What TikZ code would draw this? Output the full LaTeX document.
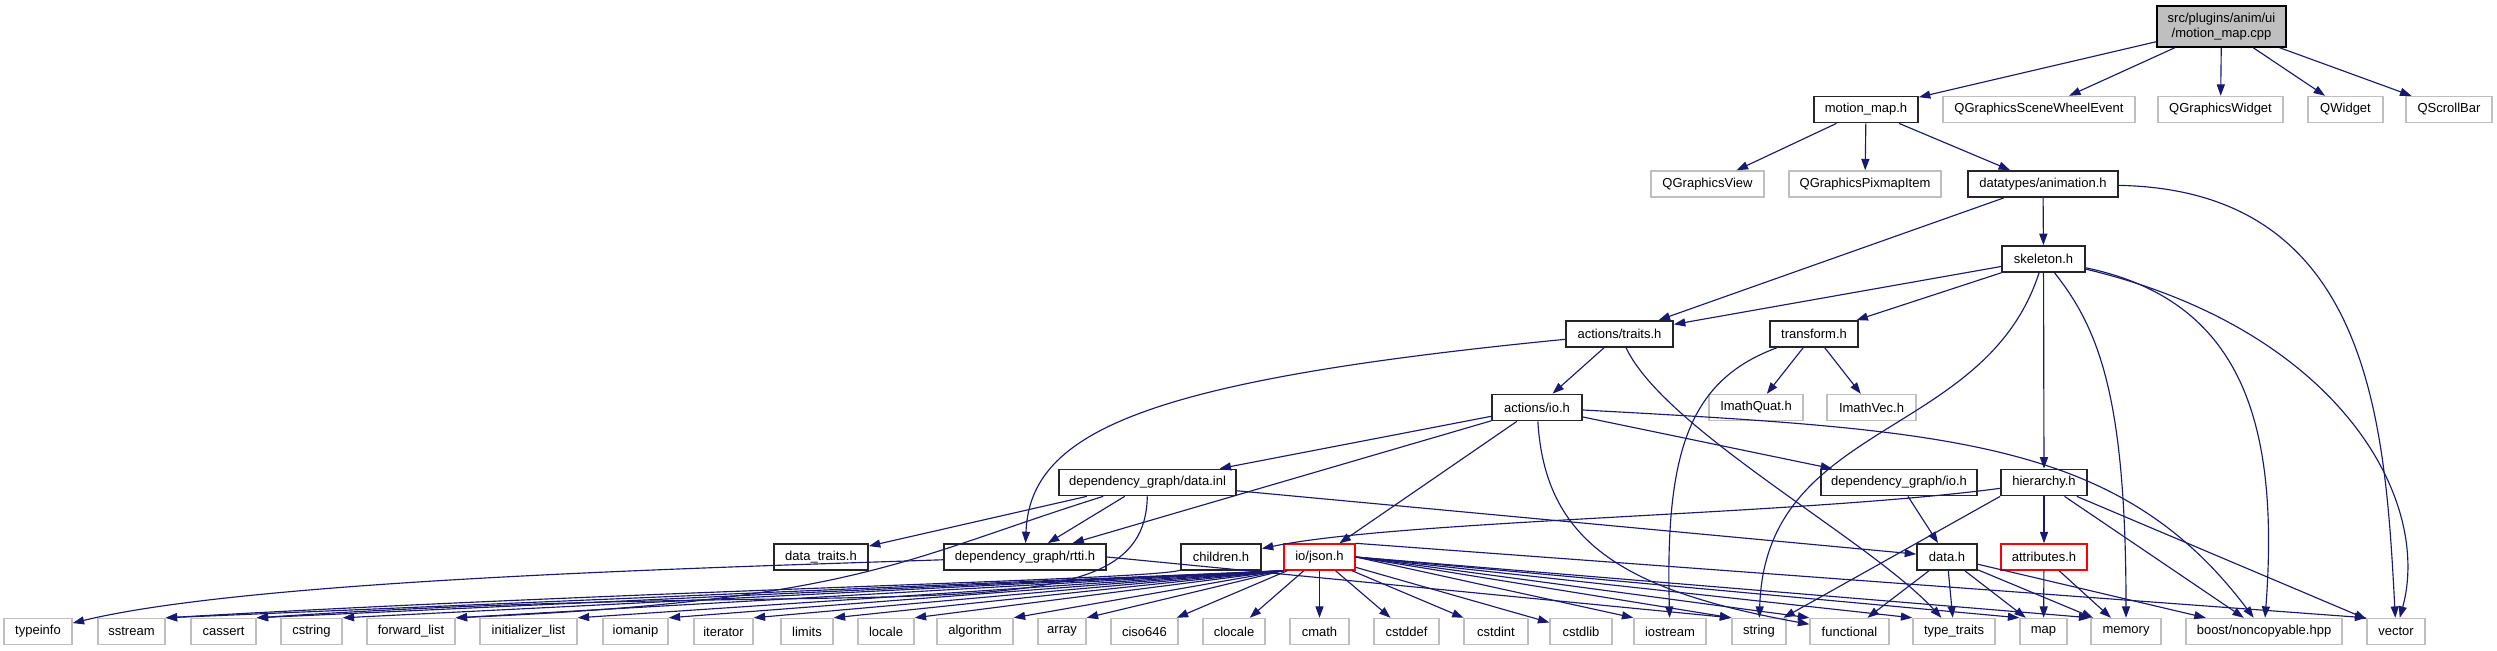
\documentclass[tikz,border=0pt]{standalone}
\usepackage{fontspec}
\setmainfont{Liberation Sans}
\usepackage{tikz}
\usetikzlibrary{arrows.meta}
\definecolor{edgeblue}{HTML}{191970}
\definecolor{sysgray}{HTML}{BFBFBF}
\newcommand{\doxfont}{\fontsize{7.4}{8.4}\selectfont}

\begin{document}
\begin{tikzpicture}[
  x=0.02cm, y=-0.02cm,
  rootf/.style={draw=black, line width=0.8pt, fill=sysgray, minimum height=0.82cm, inner sep=1pt, align=center, font=\doxfont},
  hdr/.style={draw=black!85, line width=1pt, minimum height=0.52cm, inner sep=1pt, font=\doxfont},
  syshdr/.style={draw=sysgray, line width=0.8pt, minimum height=0.52cm, inner sep=1pt, font=\doxfont},
  errhdr/.style={draw=red, line width=0.8pt, minimum height=0.52cm, inner sep=1pt, font=\doxfont},
  incl/.style={draw=edgeblue, line width=0.65pt, -{Triangle[length=6.5pt,width=4.6pt]}}
]
\useasboundingbox (0,0) rectangle (2497,651);

% upper levels
\node[rootf, minimum width=2.58cm] (cpp) at (2221.5,26.5) {src/plugins/anim/ui\\/motion\_map.cpp};
\node[hdr, minimum width=2.08cm] (mmh) at (1866,109.5) {motion\_map.h};
\node[syshdr, minimum width=3.84cm] (qgswe) at (2039,109.5) {QGraphicsSceneWheelEvent};
\node[syshdr, minimum width=2.50cm] (qgw) at (2220.5,109.5) {QGraphicsWidget};
\node[syshdr, minimum width=1.50cm] (qwid) at (2345.5,109.5) {QWidget};
\node[syshdr, minimum width=1.72cm] (qsb) at (2449,109.5) {QScrollBar};
\node[syshdr, minimum width=2.26cm] (qgv) at (1707.5,184) {QGraphicsView};
\node[syshdr, minimum width=3.04cm] (qgpi) at (1865,184) {QGraphicsPixmapItem};
\node[hdr, minimum width=3.00cm] (anim) at (2043,184) {datatypes/animation.h};
\node[hdr, minimum width=1.66cm] (skel) at (2043.5,259) {skeleton.h};
\node[hdr, minimum width=2.14cm] (traits) at (1619.5,334) {actions/traits.h};
\node[hdr, minimum width=1.76cm] (transform) at (1814,334) {transform.h};
\node[hdr, minimum width=1.80cm] (io) at (1537,407.5) {actions/io.h};
\node[syshdr, minimum width=1.88cm] (iquat) at (1756,407.5) {ImathQuat.h};
\node[syshdr, minimum width=1.78cm] (ivec) at (1871.5,407.5) {ImathVec.h};
\node[hdr, minimum width=3.54cm] (datainl) at (1147.5,482.5) {dependency\_graph/data.inl};
\node[hdr, minimum width=3.12cm] (dgio) at (1899,482.5) {dependency\_graph/io.h};
\node[hdr, minimum width=1.72cm] (hier) at (2044,482.5) {hierarchy.h};
\node[hdr, minimum width=1.88cm] (dtraits) at (821,557) {data\_traits.h};
\node[hdr, minimum width=3.24cm] (rtti) at (1025,557) {dependency\_graph/rtti.h};
\node[hdr, minimum width=1.60cm] (children) at (1221,557) {children.h};
\node[errhdr, minimum width=1.42cm] (json) at (1319.5,557) {io/json.h};
\node[hdr, minimum width=1.20cm] (datah) at (1947,557) {data.h};
\node[errhdr, minimum width=1.72cm] (attr) at (2044,557) {attributes.h};

% system headers
\node[syshdr, minimum width=1.36cm] (typeinfo) at (38,631.5) {typeinfo};
\node[syshdr, minimum width=1.34cm] (sstream) at (131.5,631.5) {sstream};
\node[syshdr, minimum width=1.30cm] (cassert) at (223.5,631.5) {cassert};
\node[syshdr, minimum width=1.22cm] (cstring) at (311.5,631.5) {cstring};
\node[syshdr, minimum width=1.76cm] (fwdlist) at (411,631.5) {forward\_list};
\node[syshdr, minimum width=1.94cm] (initlist) at (528.5,631.5) {initializer\_list};
\node[syshdr, minimum width=1.30cm] (iomanip) at (635.5,631.5) {iomanip};
\node[syshdr, minimum width=1.18cm] (iterator) at (723.5,631.5) {iterator};
\node[syshdr, minimum width=1.04cm] (limits) at (807,631.5) {limits};
\node[syshdr, minimum width=1.12cm] (locale) at (886,631.5) {locale};
\node[syshdr, minimum width=1.52cm] (algorithm) at (975,631.5) {algorithm};
\node[syshdr, minimum width=0.96cm] (array) at (1062,631.5) {array};
\node[syshdr, minimum width=1.34cm] (ciso) at (1144.5,631.5) {ciso646};
\node[syshdr, minimum width=1.24cm] (clocale) at (1234,631.5) {clocale};
\node[syshdr, minimum width=1.18cm] (cmath) at (1319.5,631.5) {cmath};
\node[syshdr, minimum width=1.30cm] (cstddef) at (1406.5,631.5) {cstddef};
\node[syshdr, minimum width=1.28cm] (cstdint) at (1496,631.5) {cstdint};
\node[syshdr, minimum width=1.24cm] (cstdlib) at (1581,631.5) {cstdlib};
\node[syshdr, minimum width=1.44cm] (iostream) at (1670,631.5) {iostream};
\node[syshdr, minimum width=1.08cm] (string) at (1759,631.5) {string};
\node[syshdr, minimum width=1.58cm] (functional) at (1849.5,631.5) {functional};
\node[syshdr, minimum width=1.64cm] (typetraits) at (1954,631.5) {type\_traits};
\node[syshdr, minimum width=0.94cm] (map) at (2043.5,631.5) {map};
\node[syshdr, minimum width=1.40cm] (memory) at (2126,631.5) {memory};
\node[syshdr, minimum width=3.12cm] (boost) at (2264,631.5) {boost/noncopyable.hpp};
\node[syshdr, minimum width=1.16cm] (vector) at (2396,631.5) {vector};

% includes
\draw[incl] (cpp) -- (mmh);
\draw[incl] (cpp) -- (qgswe);
\draw[incl] (cpp) -- (qgw);
\draw[incl] (cpp) -- (qwid);
\draw[incl] (cpp) -- (qsb);
\draw[incl] (mmh) -- (qgv);
\draw[incl] (mmh) -- (qgpi);
\draw[incl] (mmh) -- (anim);
\draw[incl] (anim) -- (skel);
\draw[incl] (anim) -- (traits);
\draw[incl] (anim) .. controls (2370,190) and (2385,420) .. (vector);
\draw[incl] (skel) -- (traits);
\draw[incl] (skel) -- (transform);
\draw[incl] (skel) -- (hier);
\draw[incl] (skel) .. controls (1985,440) and (1765,420) .. (string);
\draw[incl] (skel) .. controls (2100,330) and (2126,400) .. (memory);
\draw[incl] (skel) .. controls (2240,300) and (2280,420) .. (boost);
\draw[incl] (skel) .. controls (2340,330) and (2432,500) .. (vector);
\draw[incl] (traits) -- (io);
\draw[incl] (traits) .. controls (1150,380) and (1030,430) .. (rtti);
\draw[incl] (traits) .. controls (1665,430) and (1870,540) .. (typetraits);
\draw[incl] (transform) -- (iquat);
\draw[incl] (transform) -- (ivec);
\draw[incl] (transform) .. controls (1690,380) and (1665,450) .. (iostream);
\draw[incl] (io) -- (datainl);
\draw[incl] (io) -- (dgio);
\draw[incl] (io) -- (rtti);
\draw[incl] (io) -- (json);
\draw[incl] (io) .. controls (1545,540) and (1620,590) .. (functional);
\draw[incl] (io) .. controls (1950,430) and (2120,440) .. (boost);
\draw[incl] (datainl) -- (dtraits);
\draw[incl] (datainl) -- (rtti);
\draw[incl] (datainl) -- (datah);
\draw[incl] (datainl) .. controls (900,560) and (860,600) .. (fwdlist.north east);
\draw[incl] (datainl) .. controls (1145,640) and (900,575) .. (cassert.north east);
\draw[incl] (rtti) .. controls (700,568) and (250,580) .. (typeinfo);
\draw[incl] (rtti.east) -- (string.north west);
\draw[incl] (children) .. controls (1150,580) and (650,590) .. (sstream.north east);
\draw[incl] (hier) .. controls (1800,515) and (1400,520) .. (children);
\draw[incl] (hier.south west) -- (string);
\draw[incl] (hier) -- (attr);
\draw[incl] (hier) -- (boost);
\draw[incl] (hier) -- (vector);
\draw[incl] (dgio) -- (datah);
\draw[incl] (datah) -- (functional);
\draw[incl] (datah) -- (typetraits);
\draw[incl] (datah) -- (map);
\draw[incl] (datah) -- (memory);
\draw[incl] (datah) -- (boost);
\draw[incl] (attr) -- (map);
\draw[incl] (attr) -- (memory);
\draw[incl] (json.south west) -- (sstream.north east);
\draw[incl] (json.south west) -- (cassert.north east);
\draw[incl] (json.south west) -- (cstring.north east);
\draw[incl] (json.south west) -- (fwdlist.north east);
\draw[incl] (json.south west) -- (initlist.north east);
\draw[incl] (json.south west) -- (iomanip.north east);
\draw[incl] (json.south west) -- (iterator.north east);
\draw[incl] (json.south west) -- (limits.north east);
\draw[incl] (json.south west) -- (locale.north east);
\draw[incl] (json.south west) -- (algorithm.north east);
\draw[incl] (json.south west) -- (array.north east);
\draw[incl] (json) -- (ciso);
\draw[incl] (json) -- (clocale);
\draw[incl] (json) -- (cmath);
\draw[incl] (json) -- (cstddef);
\draw[incl] (json) -- (cstdint);
\draw[incl] (json) -- (cstdlib);
\draw[incl] (json.east) -- (iostream.north west);
\draw[incl] (json.east) -- (string.north west);
\draw[incl] (json.east) -- (functional.north west);
\draw[incl] (json.east) -- (typetraits.north west);
\draw[incl] (json.east) -- (map.north west);
\draw[incl] (json.east) -- (memory.north west);
\draw[incl] (json.north east) -- (vector.north west);

\end{tikzpicture}
\end{document}
